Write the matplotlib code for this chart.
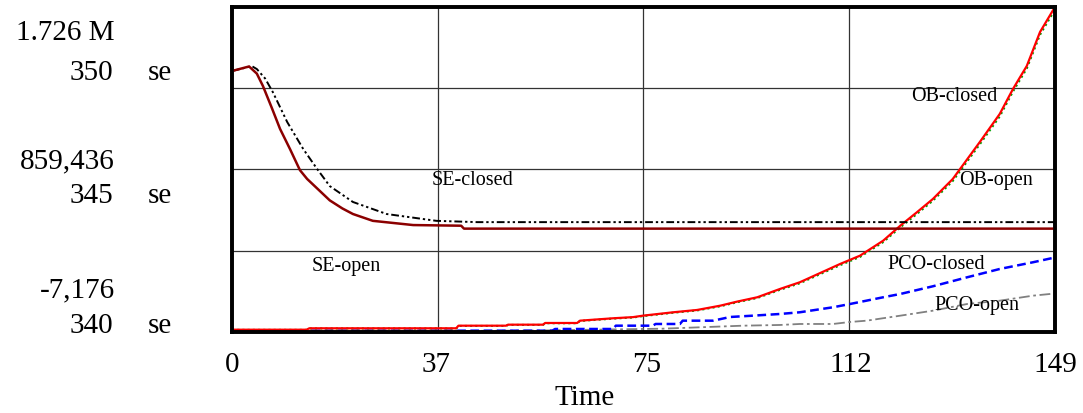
import matplotlib
matplotlib.use("Agg")
import matplotlib.pyplot as plt

plt.rcParams['font.family'] = ['Liberation Serif', 'DejaVu Serif']

# SE series (right scale, 340-350 se)
t_se_open = [0, 3.1, 4.5, 5.6, 7.2, 8.7, 10.5, 12.3, 13.6, 15.9, 17.7, 20, 21.9, 25.5, 32.8,
             41.5, 42, 149]
se_open = [348.03, 348.17, 347.95, 347.57, 346.9, 346.25, 345.63, 344.98, 344.71, 344.34,
           344.05, 343.8, 343.63, 343.42, 343.29, 343.27, 343.18, 343.18]
t_se_closed = [0, 3.6, 4.5, 6, 7.4, 10, 12.9, 15.4, 17.7, 21.9, 28, 37, 44.4, 149]
se_closed = [348.03, 348.18, 348.09, 347.8, 347.38, 346.46, 345.63, 345.02, 344.49, 344.0,
             343.63, 343.42, 343.38, 343.38]

# OB / PCO series (left scale, -7,176 .. 1.726 M)
t_ob = [0, 13.5, 14, 40.6, 41, 49.6, 50, 56.3, 56.7, 62.5, 63, 69, 72.6, 74.4, 79.9, 84.2,
        88.4, 91.4, 95.1, 99.2, 102.8, 110.1, 113.7, 117.9, 121, 124, 126.9, 130.5, 135.4,
        139, 141.4, 143.9, 146.3, 149]
ob_closed = [5000, 5000, 12500, 12500, 26400, 26400, 31800, 31800, 40800, 40800, 53100, 65900,
             72000, 79800, 97900, 110200, 133100, 154400, 177900, 222100, 257900, 355500,
             399700, 479700, 559700, 631200, 702100, 808800, 1006000, 1155400, 1288700,
             1411400, 1592700, 1726000]
ob_open = [4000, 4000, 11500, 11500, 25000, 25000, 30500, 30500, 39500, 39500, 51500, 64000,
           70000, 77500, 95500, 107500, 130000, 151000, 174000, 217500, 252500, 349000,
           393000, 472000, 551000, 622000, 693000, 798000, 994000, 1142000, 1275000,
           1398000, 1578000, 1712000]

t_pco_closed = [0, 14, 14.5, 58, 58.5, 69, 69.5, 76.2, 76.7, 81.1, 81.6, 87.1, 90.2, 94.3,
                99.2, 102.8, 108.8, 111.9, 117.9, 121, 126.9, 133.1, 139, 145, 149]
pco_closed = [-4500, -4500, -250, -250, 8800, 8800, 26400, 26400, 35500, 35500, 53100, 53100,
              72800, 79800, 88800, 97900, 124500, 142100, 177900, 195500, 236500, 284500,
              328800, 364500, 390100]
t_pco_open = [0, 40, 56, 78, 92.5, 99.2, 102.8, 108.8, 111.9, 114.9, 121, 126.9, 133.1, 139,
              145, 149]
pco_open = [-5500, -1800, 800, 10400, 26400, 30200, 35500, 35500, 46200, 53100, 79800, 106400,
            142100, 159700, 186400, 198100]

x_ticks = [0, 37, 75, 112, 149]
x_labels = ['0', '37', '75', '112', '149']
x_grid = [37.25, 74.5, 111.75]
left_labels = ['1.726 M', '859,436', '-7,176']
right_labels = ['350', '345', '340']

fig = plt.figure(figsize=(10.83, 4.14), dpi=100)
ax = fig.add_axes([0.2142, 0.1957, 0.7599, 0.785])
ax2 = ax.twinx()

ax.set_xlim(0, 149)
ax.set_ylim(-7176, 1726000)
ax2.set_ylim(340, 350)

# grid
for xv in x_grid:
    ax.axvline(xv, color='#333333', lw=0.9, zorder=0)
for yf in [0.25, 0.5, 0.75]:
    ax.axhline(-7176 + yf * (1726000 + 7176), color='#333333', lw=0.9, zorder=0)

ax.plot(t_pco_open, pco_open, color='#808080', lw=1.3, ls=(0, (6, 2, 1.5, 2)))
ax.plot(t_pco_closed, pco_closed, color='#0000FF', lw=1.8, ls=(0, (3.5, 1.8)))
ax.plot(t_ob, ob_open, color='#00A000', lw=1.5, ls=(0, (1, 1.5)))
ax.plot(t_ob, ob_closed, color='#FF0000', lw=1.6)
ax2.plot(t_se_closed, se_closed, color='black', lw=1.4,
         ls=(0, (4, 1.5, 1.2, 1.5, 1.2, 1.5)))
ax2.plot(t_se_open, se_open, color='#8B0000', lw=1.8)

ax.set_xticks(x_ticks)
ax.set_xticklabels(x_labels, fontsize=21)
ax.tick_params(axis='x', length=0, pad=14)
ax.set_yticks([])
ax2.set_yticks([])
ax.set_xlabel('Time', fontsize=21)
ax.xaxis.set_label_coords(0.428, -0.16)

for a in (ax, ax2):
    for s in a.spines.values():
        s.set_linewidth(2.6)
        s.set_color('black')

# left value labels
ly = [(0.923, 0.80), (0.529, 0.422), (0.132, 0.02)]
for (y1, y2), l1, l2 in zip(ly, left_labels, right_labels):
    ax.text(-0.1422, y1, l1, transform=ax.transAxes, ha='right', va='center', fontsize=21)
    ax.text(-0.1446, y2, l2, transform=ax.transAxes, ha='right', va='center', fontsize=21)
    ax.text(-0.102, y2, 'se', transform=ax.transAxes, ha='left', va='center', fontsize=21)

# series labels
names = ['SE-closed', 'SE-open', 'OB-closed', 'OB-open', 'PCO-closed', 'PCO-open']
pos = [(0.243, 0.468), (0.097, 0.206), (0.825, 0.729), (0.883, 0.468), (0.796, 0.212),
       (0.854, 0.086)]
for n, (px, py) in zip(names, pos):
    ax.text(px, py, n, transform=ax.transAxes, ha='left', va='center', fontsize=14.5)

fig.savefig('out.png', dpi=100)
